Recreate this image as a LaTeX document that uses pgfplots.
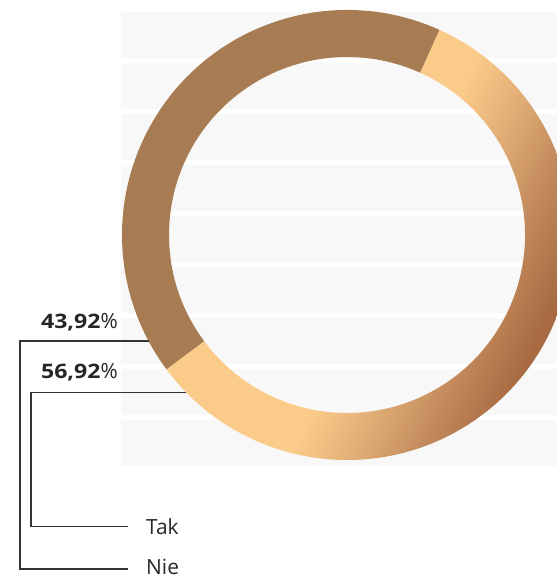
\documentclass[border=0pt]{standalone}
\usepackage{pgfplots}
\pgfplotsset{compat=1.18}
\usepackage{pgfplotstable}
\usepackage{fontspec}
\setmainfont{Open Sans}
\newfontfamily\labbold[FakeStretch=1.16]{Open Sans Bold}
\definecolor{band}{HTML}{F8F8F8}
\definecolor{nie}{HTML}{A77C52}
\definecolor{peach}{HTML}{FBCB8A}
\definecolor{tmidA}{HTML}{E2AE76}
\definecolor{tmidB}{HTML}{C48C5E}
\definecolor{tdark}{HTML}{A76A41}
\definecolor{txt}{HTML}{262626}
\definecolor{ln}{HTML}{333333}
\pgfdeclarehorizontalshading{takshade}{100bp}{color(0bp)=(peach); color(49.8bp)=(peach); color(56bp)=(tmidA); color(62.5bp)=(tmidB); color(69.5bp)=(tdark); color(100bp)=(tdark)}
% share of the ring (percent), and the printed values
\pgfplotstableread{
label share printed
Nie 41.94 43.92
Tak 58.06 56.92
}\ringdata
\begin{document}
\begin{tikzpicture}
\pgfplotstablegetelem{0}{share}\of\ringdata \let\shareNie\pgfplotsretval
\pgfplotstablegetelem{1}{share}\of\ringdata \let\shareTak\pgfplotsretval
\pgfmathsetmacro{\aStart}{65.7}
\pgfmathsetmacro{\aMid}{\aStart+3.6*\shareNie}
\pgfmathsetmacro{\aEnd}{\aMid+3.6*\shareTak}
\def\ringcx{347}\def\ringcy{344}\def\ringRo{225}\def\ringRi{178}
\begin{axis}[name=ax, width=557bp, height=579bp, scale only axis,
  xmin=0, xmax=557, ymin=0, ymax=579, hide axis, clip=true]
\addplot[draw=none, forget plot] coordinates {(0,0) (557,579)};
% background bands
\pgfplotsinvokeforeach{567,516,465,414,363,312,261,210,159}{
  \fill[band] (121,#1) rectangle (557,#1-45.7);
}
% Nie segment
\fill[nie] ({\ringcx+\ringRo*cos(\aStart)},{\ringcy+\ringRo*sin(\aStart)})
  arc[start angle=\aStart, end angle=\aMid, radius=\ringRo bp]
  -- ({\ringcx+\ringRi*cos(\aMid)},{\ringcy+\ringRi*sin(\aMid)})
  arc[start angle=\aMid, end angle=\aStart, radius=\ringRi bp] -- cycle;
% Tak segment
\shade[shading=takshade, shading angle=-24.8] ({\ringcx+\ringRo*cos(\aMid)},{\ringcy+\ringRo*sin(\aMid)})
  arc[start angle=\aMid, end angle=\aEnd, radius=\ringRo bp]
  -- ({\ringcx+\ringRi*cos(\aEnd)},{\ringcy+\ringRi*sin(\aEnd)})
  arc[start angle=\aEnd, end angle=\aMid, radius=\ringRi bp] -- cycle;
% leader lines
\draw[ln, line width=1.2bp] (148.5,238) -- (20,238) -- (20,10) -- (128,10);
\draw[ln, line width=1.2bp] (186.3,186.5) -- (31,186.5) -- (31,52.5) -- (128,52.5);
% labels
\node[anchor=base east, inner sep=0pt, text=txt] at (118,250.5)
  {{\fontsize{20}{20}\selectfont\labbold 43,92}{\fontsize{21}{21}\selectfont\%}};
\node[anchor=base east, inner sep=0pt, text=txt] at (118,200.5)
  {{\fontsize{20}{20}\selectfont\labbold 56,92}{\fontsize{21}{21}\selectfont\%}};
\node[anchor=base west, inner sep=0pt, text=txt] at (146,44.7)
  {\fontsize{21}{21}\selectfont Tak};
\node[anchor=base west, inner sep=0pt, text=txt] at (146,4.5)
  {\fontsize{21}{21}\selectfont Nie};
\end{axis}
\pgfresetboundingbox
\path[use as bounding box] (ax.south west) rectangle (ax.north east);
\end{tikzpicture}
\end{document}
